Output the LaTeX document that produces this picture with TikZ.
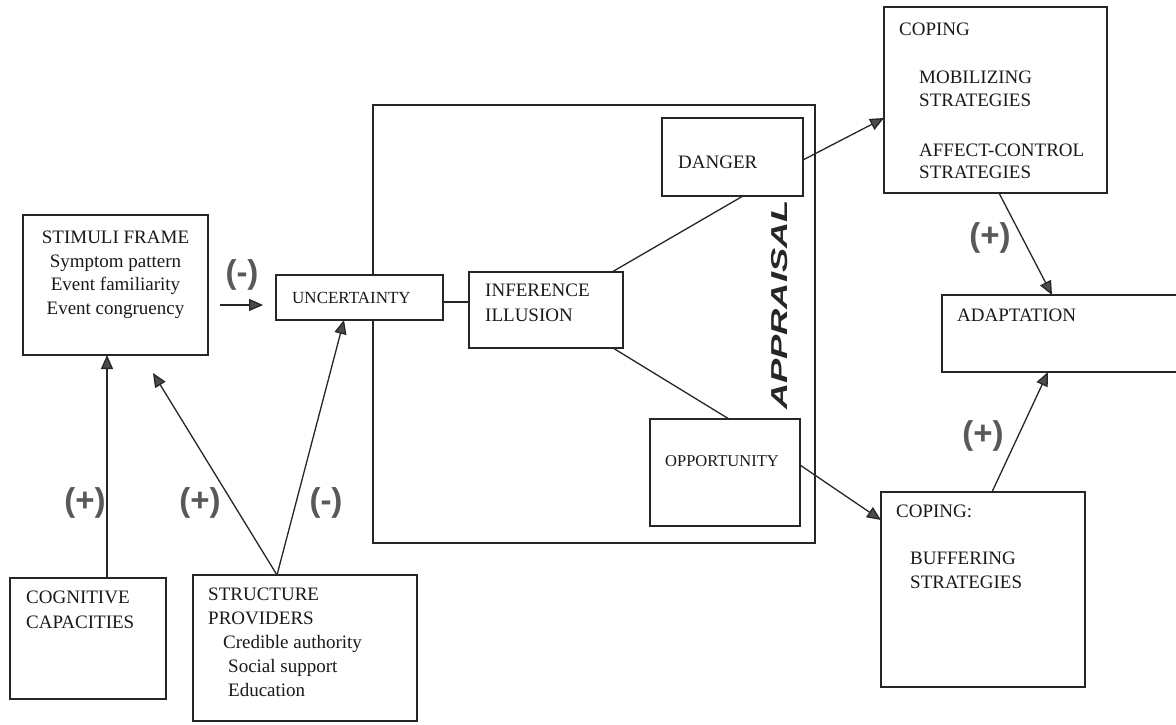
\documentclass[tikz,border=0pt]{standalone}
\usepackage{fontspec}
\setmainfont{Liberation Serif}
\setsansfont{Liberation Sans}
\usetikzlibrary{arrows.meta,calc}
\begin{document}
\begin{tikzpicture}[x=1pt,y=-1pt,
 box/.style={draw=black!85, line width=1.5pt, fill=white, inner sep=0pt, outer sep=0pt, anchor=north west},
 lbl/.style={anchor=base west, inner sep=0pt, font=\fontsize{19}{23}\selectfont, text=black!90},
 clbl/.style={lbl, anchor=base},
 arr/.style={draw=black!85, line width=1.3pt, -{Triangle[length=14pt,width=12pt,fill=black!70]}},
 lnk/.style={draw=black!85, line width=1.3pt},
 sign/.style={font=\sffamily\bfseries\fontsize{33}{33}\selectfont, text=black!65, inner sep=0pt},
]
\useasboundingbox (0,0) rectangle (1176,725);
\fill[white] (0,0) rectangle (1176,725);
\clip (0,0) rectangle (1176,725);

% appraisal frame
\node[box, minimum width=442pt, minimum height=438pt] (appr) at (373,105) {};
\node[rotate=90, inner sep=0pt, text=black!85] (apl) at (780,305)
  {\scalebox{1.58}[1]{\sffamily\bfseries\itshape\fontsize{23}{23}\selectfont APPRAISAL}};

% boxes
\node[box, minimum width=185pt, minimum height=140pt] (stim) at (23,215) {};
\node[box, minimum width=167pt, minimum height=45pt] (unc) at (276,275) {};
\node[box, minimum width=154pt, minimum height=76pt] (inf) at (469,272) {};
\node[box, minimum width=141pt, minimum height=78pt] (danger) at (662,118) {};
\node[box, minimum width=150pt, minimum height=107pt] (opp) at (650,419) {};
\node[box, minimum width=223pt, minimum height=186pt] (cop1) at (884,7) {};
\node[box, minimum width=243pt, minimum height=77pt] (adapt) at (942,295) {};
\node[box, minimum width=204pt, minimum height=195pt] (cop2) at (881,492) {};
\node[box, minimum width=156pt, minimum height=121pt] (cog) at (10,578) {};
\node[box, minimum width=224pt, minimum height=146pt] (struct) at (193,575) {};

% texts
\node[clbl] (st1) at (115.5,243.5) {STIMULI FRAME};
\node[clbl] (st2) at (115.5,267) {Symptom pattern};
\node[clbl] (st3) at (115.5,290.5) {Event familiarity};
\node[clbl] (st4) at (115.5,314) {Event congruency};
\node[lbl, font=\fontsize{17}{20}\selectfont] (unct) at (292,303) {UNCERTAINTY};
\node[lbl] (in1) at (485,296.5) {INFERENCE};
\node[lbl] (in2) at (485,321.5) {ILLUSION};
\node[lbl] (dat) at (678,168.5) {DANGER};
\node[lbl, font=\fontsize{16.5}{20}\selectfont] (opt) at (665,466) {OPPORTUNITY};
\node[lbl] (c1a) at (899,35.5) {COPING};
\node[lbl] (c1b) at (919,83.5) {MOBILIZING};
\node[lbl] (c1c) at (919,106.5) {STRATEGIES};
\node[lbl] (c1d) at (919,156.5) {AFFECT-CONTROL};
\node[lbl] (c1e) at (919,178.5) {STRATEGIES};
\node[lbl] (adt) at (957,321.5) {ADAPTATION};
\node[lbl] (c2a) at (896,517.5) {COPING:};
\node[lbl] (c2b) at (910,564.5) {BUFFERING};
\node[lbl] (c2c) at (910,588.5) {STRATEGIES};
\node[lbl] (cg1) at (26,603.5) {COGNITIVE};
\node[lbl] (cg2) at (26,628.5) {CAPACITIES};
\node[lbl] (sp1) at (208,600.5) {STRUCTURE};
\node[lbl] (sp2) at (208,624.5) {PROVIDERS};
\node[lbl] (sp3) at (223,648.5) {Credible authority};
\node[lbl] (sp4) at (228,672) {Social support};
\node[lbl] (sp5) at (228,696) {Education};

% connectors
\draw[arr] ([shift={(97,0)}]cog.north west) -- ([shift={(84,0)}]stim.south west);
\draw[arr] ([shift={(84,0)}]struct.north west) -- ([shift={(130,18)}]stim.south west);
\draw[arr] ([shift={(84,0)}]struct.north west) -- ([shift={(68,0)}]unc.south west);
\draw[arr] ([shift={(12,90)}]stim.north east) -- ([shift={(-13,30)}]unc.north west);
\draw[lnk] ([shift={(0,27)}]unc.north east) -- ([shift={(0,30)}]inf.north west);
\draw[lnk] ([shift={(143,0)}]inf.north west) -- ([shift={(81,0)}]danger.south west);
\draw[lnk] ([shift={(144,0)}]inf.south west) -- ([shift={(79,0)}]opp.north west);
\draw[arr] ([shift={(0,42)}]danger.north east) -- ([shift={(0,111)}]cop1.north west);
\draw[arr] ([shift={(0,46)}]opp.north east) -- ([shift={(0,28)}]cop2.north west);
\draw[arr] ([shift={(115,0)}]cop1.south west) -- ([shift={(110,0)}]adapt.north west);
\draw[arr] ([shift={(111,0)}]cop2.north west) -- ([shift={(106,0)}]adapt.south west);

% signs
\node[sign] (s1) at (242,275) {(-)};
\node[sign] (s2) at (85,503) {(+)};
\node[sign] (s3) at (200,503) {(+)};
\node[sign] (s4) at (326,503) {(-)};
\node[sign] (s5) at (990,238) {(+)};
\node[sign] (s6) at (983,436) {(+)};
\end{tikzpicture}
\end{document}
